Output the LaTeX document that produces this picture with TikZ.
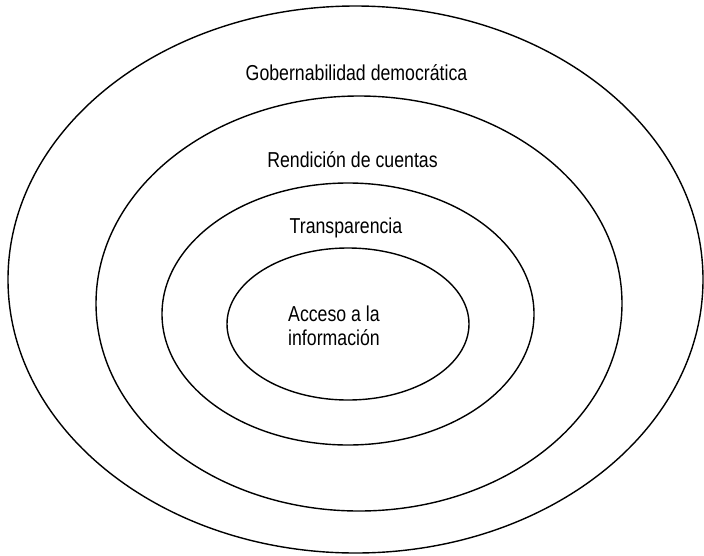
\documentclass[tikz,border=0pt]{standalone}
\usepackage{fontspec}
\setmainfont{Liberation Sans}[FakeStretch=0.82]
\usetikzlibrary{shapes}

\begin{document}
\begin{tikzpicture}[x=1pt,y=-1pt,every node/.style = {font=\fontsize{21.6}{24}\selectfont}]

\tikzstyle{ring}=[ellipse, draw, line width=1.4pt, inner sep=0pt]
\tikzstyle{label_text} = [anchor=base, inner sep=0pt]

\useasboundingbox (0,0) rectangle (704,555);

\node[ring, minimum width=695, minimum height=547] (gobernabilidad) at (355.5,279.5) {};
\node[ring, minimum width=526, minimum height=415] (rendicion) at (359,303.5) {};
\node[ring, minimum width=372, minimum height=262] (transparencia) at (348,314) {};
\node[ring, minimum width=242, minimum height=152] (acceso) at (348,324) {};

\node[label_text] (t_gob) at (356.5,80) {Gobernabilidad democrática};
\node[label_text] (t_ren) at (352.5,167) {Rendición de cuentas};
\node[label_text] (t_tra) at (346,233) {Transparencia};
\node[anchor=north west, inner sep=0pt, align=left] (t_acc) at (288,305.5) {Acceso a la\\información};
\end{tikzpicture}
\end{document}
